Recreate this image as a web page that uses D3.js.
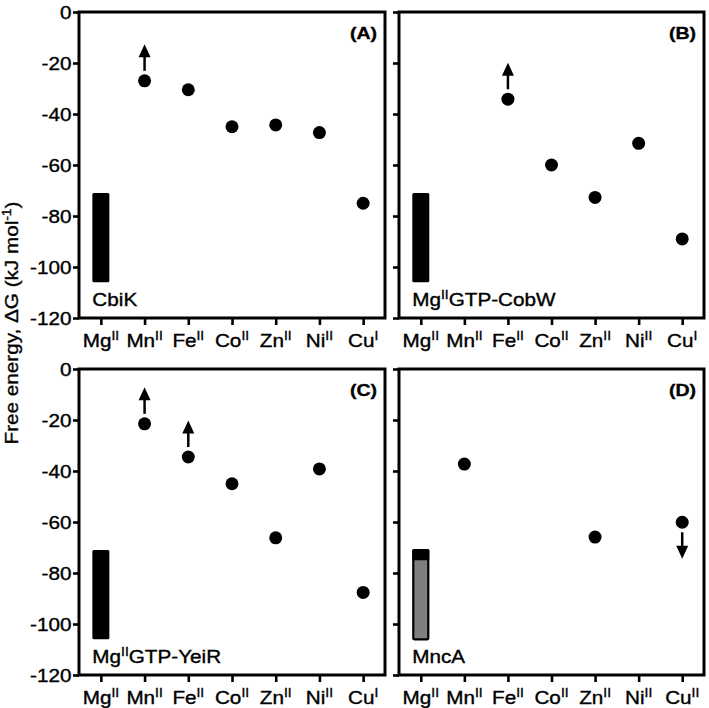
<!DOCTYPE html>
<html><head><meta charset="utf-8">
<script src="https://cdn.jsdelivr.net/npm/d3@7"></script>
<style>
body{margin:0;background:#fff;}
svg text{font-family:"Liberation Sans",Arial,Helvetica,sans-serif;fill:#000;stroke:#000;stroke-width:0.35px;}
</style>
</head><body>
<svg id="chart" width="709" height="708"></svg>
<script>
// ---------- data ----------
const metals = ["Mg","Mn","Fe","Co","Zn","Ni","Cu"];
const oxStatesABC = ["II","II","II","II","II","II","I"];
const oxStatesD   = ["II","II","II","II","II","II","II"];
const yTicks = [0,-20,-40,-60,-80,-100,-120];
const yDomain = [-120, 0];
const panelLetters = ["(A)","(B)","(C)","(D)"];

const proteinA = [["CbiK",0]];
const proteinB = [["Mg",0],["II",1],["GTP-CobW",0]];
const proteinC = [["Mg",0],["II",1],["GTP-YeiR",0]];
const proteinD = [["MncA",0]];

// free energies (kJ/mol), null = not shown
const valuesA = [null,-27,-30.5,-45,-44.3,-47.3,-75];
const valuesB = [null,null,-34.2,-60,-72.7,-51.5,-89];
const valuesC = [null,-21.5,-34.5,-45,-66.2,-39.2,-87.6];
const valuesD = [null,-37.3,null,null,-65.9,null,-60.1];
// limit arrows: 1 = lower bound (up), -1 = upper bound (down)
const arrowsA = [0,1,0,0,0,0,0];
const arrowsB = [0,0,1,0,0,0,0];
const arrowsC = [0,1,1,0,0,0,0];
const arrowsD = [0,0,0,0,0,0,-1];
// Mg range bars [low, high]
const mgRangeA = [-106,-71];
const mgRangeB = [-106,-71];
const mgRangeC = [-106,-71];
const mgRangeD = [-106,-71];
const mgCapD = -75; // MncA: black cap above grey part

const panelsData = [
  {values:valuesA, arrows:arrowsA, range:mgRangeA, protein:proteinA, ox:oxStatesABC, letter:panelLetters[0], labels:true},
  {values:valuesB, arrows:arrowsB, range:mgRangeB, protein:proteinB, ox:oxStatesABC, letter:panelLetters[1], labels:false},
  {values:valuesC, arrows:arrowsC, range:mgRangeC, protein:proteinC, ox:oxStatesABC, letter:panelLetters[2], labels:true},
  {values:valuesD, arrows:arrowsD, range:mgRangeD, protein:proteinD, ox:oxStatesD, letter:panelLetters[3], labels:false, cap:mgCapD}
];

// ---------- layout ----------
const layout = [
  {left:79, top:12, w:306, h:306},
  {left:399, top:12, w:305, h:306},
  {left:79, top:369, w:306, h:306},
  {left:399, top:369, w:305, h:306}
];
const SX = 1.15; // horizontal text stretch
const FS = 18;

const svg = d3.select("#chart");

function addSegments(t, segs){
  segs.forEach(([s,sup],i)=>{
    const ts = t.append("tspan").text(s);
    if(sup){ ts.attr("font-size",12).attr("dy",-7); }
    else if(i>0 && segs[i-1][1]){ ts.attr("dy",7); }
  });
}

panelsData.forEach((p,pi)=>{
  const L = layout[pi];
  const g = svg.append("g").attr("transform",`translate(${L.left},${L.top})`);
  const x = d3.scalePoint().domain(metals).range([0,L.w]).padding(0.5);
  const y = d3.scaleLinear().domain(yDomain).range([L.h,0]);

  // y axis
  const gy = g.append("g").call(d3.axisLeft(y).tickValues(yTicks).tickSize(6)
     .tickFormat(p.labels ? (d=>String(d)) : ""));
  gy.select(".domain").remove();
  gy.attr("font-size",FS).attr("font-family",null);
  gy.selectAll(".tick line").attr("stroke","#000").attr("stroke-width",2.6);
  gy.selectAll(".tick text").attr("x",null).attr("dy","0.35em")
    .attr("transform",`translate(-7.5,0) scale(${SX},1)`);

  // x axis
  const gx = g.append("g").attr("transform",`translate(0,${L.h})`)
     .call(d3.axisBottom(x).tickSize(7).tickFormat(""));
  gx.select(".domain").remove();
  gx.selectAll(".tick line").attr("stroke","#000").attr("stroke-width",2.6);
  metals.forEach((m,i)=>{
    const t = g.append("text").attr("text-anchor","middle").attr("font-size",FS)
      .attr("transform",`translate(${x(m)},${L.h+29}) scale(${SX},1)`);
    addSegments(t,[[m,0],[p.ox[i],1]]);
  });

  // frame
  g.append("rect").attr("x",0).attr("y",0).attr("width",L.w).attr("height",L.h)
    .attr("fill","none").attr("stroke","#000").attr("stroke-width",3);

  // Mg range bar
  const bx = x("Mg");
  if(p.cap !== undefined){
    g.append("rect").attr("x",bx-7.5).attr("width",15)
      .attr("y",y(p.range[1])).attr("height",y(p.range[0])-y(p.range[1]))
      .attr("fill","#7f7f7f").attr("stroke","#000").attr("stroke-width",2.2).attr("rx",1);
    g.append("rect").attr("x",bx-8.5).attr("width",17)
      .attr("y",y(p.range[1])-1).attr("height",y(p.cap)-y(p.range[1])+1)
      .attr("fill","#000").attr("rx",1.5);
  } else {
    g.append("rect").attr("x",bx-8.5).attr("width",17)
      .attr("y",y(p.range[1])).attr("height",y(p.range[0])-y(p.range[1]))
      .attr("fill","#000").attr("rx",1.5);
  }

  // protein label
  const pt = g.append("text").attr("font-size",FS)
    .attr("transform",`translate(${bx-8.5},${L.h-12}) scale(${SX},1)`);
  addSegments(pt,p.protein);

  // panel letter
  g.append("text").attr("font-size",17).attr("font-weight","bold").attr("text-anchor","end")
    .attr("transform",`translate(${L.w-8},27) scale(${SX},1)`).text(p.letter);

  // points
  metals.forEach((m,i)=>{
    const v = p.values[i];
    if(v===null) return;
    const cx = x(m), cy = y(v);
    g.append("circle").attr("cx",cx).attr("cy",cy).attr("r",6.5).attr("fill","#000");
    const dir = p.arrows[i];
    if(dir){
      g.append("line").attr("x1",cx).attr("x2",cx)
        .attr("y1",cy-dir*10).attr("y2",cy-dir*25)
        .attr("stroke","#000").attr("stroke-width",2.5);
      g.append("path").attr("fill","#000")
        .attr("d",`M${cx},${cy-dir*36.5}L${cx-6},${cy-dir*23.5}L${cx+6},${cy-dir*23.5}Z`);
    }
  });
});

// y title
const yt = svg.append("text").attr("font-size",FS).attr("text-anchor","middle")
  .attr("transform",`translate(17.5,323) rotate(-90) scale(${SX},1)`);
addSegments(yt,[["Free energy, \u0394G (kJ mol",0],["-1",1],[")",0]]);
</script>
</body></html>
